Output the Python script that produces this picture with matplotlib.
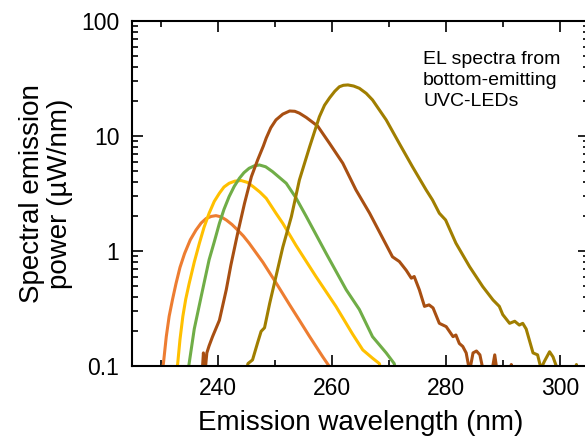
import matplotlib
matplotlib.use("Agg")
import matplotlib.pyplot as plt
from matplotlib.ticker import MultipleLocator, LogLocator, NullFormatter, FixedLocator

plt.rcParams['font.family'] = ['Liberation Sans', 'DejaVu Sans']

# EL spectra, values (wavelength nm, power uW/nm)
wl_orange = [230.2, 230.5, 231.0, 231.5, 232.1, 232.7, 233.4, 234.2, 235.2, 236.2,
             237.1, 238.0, 238.9, 239.7, 240.6, 241.5, 242.5, 243.5, 244.5, 245.5,
             247.9, 250.2, 252.6, 254.3, 256.1, 258.4, 259.8]
p_orange = [0.09, 0.105, 0.18, 0.27, 0.38, 0.52, 0.72, 0.95, 1.25, 1.52,
            1.75, 1.92, 2.0, 2.03, 1.98, 1.86, 1.7, 1.52, 1.35, 1.17,
            0.8, 0.53, 0.34, 0.25, 0.18, 0.12, 0.095]

wl_yellow = [232.8, 233.0, 233.4, 233.9, 234.4, 235.0, 235.9, 236.8, 237.6, 238.5,
             239.4, 240.3, 241.1, 242.0, 243.0, 244.1, 245.2, 246.3, 247.4, 248.5,
             250.2, 251.4, 253.7, 257.2, 260.7, 263.6, 265.4, 267.1, 268.3, 268.6]
p_yellow = [0.09, 0.105, 0.17, 0.27, 0.38, 0.52, 0.8, 1.17, 1.6, 2.13,
            2.7, 3.18, 3.6, 3.88, 4.05, 4.1, 3.95, 3.6, 3.25, 2.87,
            2.13, 1.74, 1.12, 0.6, 0.33, 0.19, 0.138, 0.117, 0.105, 0.09]

wl_green = [234.8, 235.0, 235.9, 237.1, 237.8, 238.5, 239.4, 240.3, 241.1, 242.0,
            242.9, 243.8, 244.6, 245.5, 246.4, 247.3, 248.4, 249.6, 252.0, 253.7,
            255.5, 259.0, 262.5, 264.8, 267.1, 269.5, 270.9, 271.2]
p_green = [0.09, 0.105, 0.21, 0.40, 0.58, 0.84, 1.2, 1.74, 2.3, 2.97,
           3.65, 4.29, 4.8, 5.24, 5.5, 5.6, 5.4, 4.9, 3.88, 2.9,
           2.0, 0.95, 0.46, 0.31, 0.18, 0.13, 0.105, 0.09]

wl_brown = [237.3, 237.5, 237.8, 238.1, 238.5, 239.1, 240.3, 241.5, 242.3, 243.5,
            244.7, 245.9, 247.0, 248.0, 248.5, 249.3, 250.2, 251.4, 252.6, 253.5,
            254.3, 255.5, 257.5, 259.6, 261.9, 264.2, 266.6, 268.3, 270.6, 271.8,
            273.0, 273.9, 274.4, 275.3, 276.2, 277.0, 277.7, 278.8, 280.0, 281.2,
            281.7, 282.3, 282.9, 283.5, 284.1, 284.7, 285.3, 285.9, 286.5, 288.0,
            288.5, 288.9, 291.2, 291.4, 291.6]
p_brown = [0.09, 0.13, 0.09, 0.13, 0.15, 0.18, 0.25, 0.46, 0.75, 1.43,
           2.6, 4.43, 6.2, 8.2, 9.6, 11.8, 13.8, 15.5, 16.5, 16.4,
           15.8, 14.5, 12.2, 8.6, 5.8, 3.4, 2.13, 1.47, 0.89, 0.81,
           0.68, 0.58, 0.6, 0.46, 0.33, 0.34, 0.32, 0.235, 0.22, 0.18,
           0.186, 0.157, 0.148, 0.13, 0.09, 0.13, 0.135, 0.125, 0.09, 0.09,
           0.125, 0.09, 0.09, 0.103, 0.09]

wl_olive = [245.0, 245.3, 246.1, 247.0, 247.6, 248.2, 249.1, 250.2, 251.4, 252.9,
            254.3, 256.1, 257.8, 258.7, 259.6, 260.5, 261.3, 262.0, 262.8, 263.8,
            264.8, 266.0, 267.1, 269.5, 271.8, 274.1, 276.5, 277.6, 278.8, 279.9,
            281.7, 284.1, 286.4, 288.2, 289.3, 289.9, 291.1, 292.0, 292.8, 293.4,
            294.0, 295.2, 296.0, 296.6, 297.2, 298.1, 298.7, 299.6, 302.6, 302.8,
            303.0]
p_olive = [0.09, 0.105, 0.113, 0.16, 0.2, 0.215, 0.35, 0.6, 1.08, 1.99,
           4.14, 8.07, 14.7, 18.5, 21.5, 24.5, 26.8, 27.6, 27.8, 27.2,
           26.0, 23.5, 20.6, 13.8, 8.6, 5.4, 3.39, 2.78, 2.13, 1.86,
           1.17, 0.73, 0.49, 0.375, 0.33, 0.28, 0.235, 0.245, 0.227, 0.235,
           0.21, 0.13, 0.125, 0.095, 0.11, 0.133, 0.12, 0.09, 0.09, 0.103,
           0.09]

spectra = [
    (wl_orange, p_orange, '#ED7D31'),
    (wl_yellow, p_yellow, '#FFC000'),
    (wl_green, p_green, '#70AD47'),
    (wl_brown, p_brown, '#A84F12'),
    (wl_olive, p_olive, '#A07E00'),
]

fig = plt.figure(figsize=(5.85, 4.44), dpi=100)
ax = fig.add_axes([132 / 585, 78 / 444, 457 / 585, 345 / 444])

for wl, p, c in spectra:
    ax.plot(wl, p, color=c, lw=2.2, solid_joinstyle='round')

ax.set_yscale('log')
ax.set_xlim(225, 305)
ax.set_ylim(0.1, 100)

ax.xaxis.set_major_locator(FixedLocator([240, 260, 280, 300]))
ax.xaxis.set_minor_locator(MultipleLocator(10))
ax.yaxis.set_minor_locator(LogLocator(base=10, subs=range(2, 10), numticks=10))
ax.yaxis.set_minor_formatter(NullFormatter())
ax.set_yticks([0.1, 1, 10, 100])
ax.set_yticklabels(['0.1', '1', '10', '100'])

ax.tick_params(which='both', direction='in', top=True, right=True, width=1.2, labelsize=16.5)
ax.tick_params(which='major', length=8)
ax.tick_params(which='minor', length=4.5)
ax.tick_params(axis='x', pad=8)
ax.tick_params(axis='y', pad=9)
for s in ax.spines.values():
    s.set_linewidth(1.5)

ax.set_xlabel('Emission wavelength (nm)', fontsize=20, labelpad=7)
ax.set_ylabel('Spectral emission\npower (µW/nm)', fontsize=20, labelpad=6, linespacing=1.1)

ax.text(0.637, 0.912, 'EL spectra from\nbottom-emitting\nUVC-LEDs', transform=ax.transAxes,
        fontsize=14, va='top', ha='left', linespacing=1.3)

fig.savefig('out.png', dpi=100)
